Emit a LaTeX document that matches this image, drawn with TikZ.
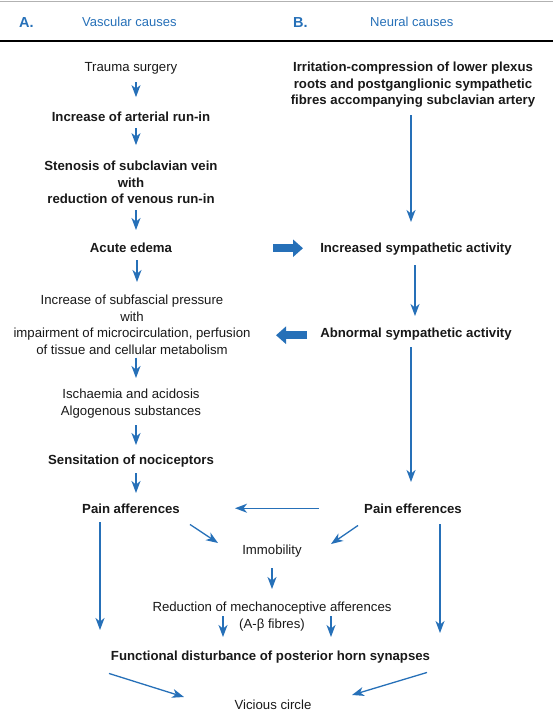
\documentclass[tikz,border=0pt]{standalone}
\usepackage{fontspec}
\setmainfont{Liberation Sans}
\usetikzlibrary{arrows.meta,calc}
\definecolor{fblue}{RGB}{38,112,184}
\definecolor{ftext}{RGB}{25,25,25}
\newcommand\ls{\rule[-3pt]{0pt}{12.5pt}}
\begin{document}
\begin{tikzpicture}[x=1pt,y=-1pt,
  lbl/.style={inner sep=0pt, text=ftext, font=\fontsize{13.2}{16.5}\selectfont, align=center, anchor=north},
  bl/.style={lbl, font=\fontsize{13.2}{16.5}\selectfont\bfseries},
  arr/.style={draw=fblue, line width=1.3pt, -{Stealth[length=12pt,width=9pt,inset=3.5pt]}},
  bigarr/.style={draw=fblue, line width=8pt, -{Triangle[length=10pt,width=17pt]}},
  hdr/.style={inner sep=0pt, text=fblue, font=\fontsize{13}{16}\selectfont, anchor=base west},
  hdrb/.style={hdr, font=\fontsize{14.5}{16}\selectfont\bfseries},
]
\useasboundingbox (0,0) rectangle (553,713);
% header
\draw[gray!60, line width=0.8pt] (0,1.5) -- (553,1.5);
\draw[black, line width=1.8pt] (0,41) -- (553,41);
\node[hdrb] (ha) at (19,27) {A.};
\node[hdr] (hv) at (82,26.6) {Vascular causes};
\node[hdrb] (hb) at (293,27) {B.};
\node[hdr] (hn) at (370,26.6) {Neural causes};

% left column
\node[lbl] (n1) at (131,62.1) {\ls Trauma surgery};
\node[bl] (n2) at (131,112.1) {\ls Increase of arterial run-in};
\node[bl] (n3) at (131,161.1) {\ls Stenosis of subclavian vein\\\ls with\\\ls reduction of venous run-in};
\node[bl] (n4) at (131,243.1) {\ls Acute edema};
\node[lbl] (n5) at (132,295.1) {\ls Increase of subfascial pressure\\\ls with\\\ls impairment of microcirculation, perfusion\\\ls of tissue and cellular metabolism};
\node[lbl] (n6) at (131,389.1) {\ls Ischaemia and acidosis\\\ls Algogenous substances};
\node[bl] (n7) at (131,455.1) {\ls Sensitation of nociceptors};
\node[bl] (n8) at (131,504.1) {\ls Pain afferences};

% right column
\node[bl] (r1) at (413,62.1) {\ls Irritation-compression of lower plexus\\\ls roots and postganglionic sympathetic\\\ls fibres accompanying subclavian artery};
\node[bl] (r2) at (416,243.1) {\ls Increased sympathetic activity};
\node[bl] (r3) at (416,328.1) {\ls Abnormal sympathetic activity};
\node[bl] (r4) at (413,504.1) {\ls Pain efferences};

% middle
\node[lbl] (imm) at (272,545.1) {\ls Immobility};
\node[lbl] (red) at (272,602.1) {\ls Reduction of mechanoceptive afferences\\\ls (A-β fibres)};
\node[bl] (fd) at (270.5,651.1) {\ls Functional disturbance of posterior horn synapses};
\node[lbl] (vc) at (273,700.1) {\ls Vicious circle};

% left column arrows
\draw[arr, shorten <=7.4pt, shorten >=15pt] ([xshift=5pt]n1.south) -- ([xshift=5pt]n2.north);
\draw[arr, shorten <=3.4pt, shorten >=16pt] ([xshift=5pt]n2.south) -- ([xshift=5pt]n3.north);
\draw[arr, shorten <=3.4pt, shorten >=13.1pt] ([xshift=5pt]n3.south) -- ([xshift=5pt]n4.north);
\draw[arr, shorten <=4.4pt, shorten >=13.1pt] ([xshift=6pt]n4.south) -- ([xshift=5pt]n5.north);
\draw[arr, shorten <=0pt, shorten >=11.1pt] ([xshift=4pt]n5.south) -- ([xshift=5pt]n6.north);
\draw[arr, shorten <=6.9pt, shorten >=10.1pt] ([xshift=5pt]n6.south) -- ([xshift=5pt]n7.north);
\draw[arr, shorten <=5.4pt, shorten >=11.1pt] ([xshift=5pt]n7.south) -- ([xshift=5pt]n8.north);

% right column arrows
\draw[arr, shorten <=7.4pt, shorten >=21.1pt] ([xshift=-2pt]r1.south) -- ([xshift=-5pt]r2.north);
\draw[arr, shorten <=9.4pt, shorten >=12.1pt] ([xshift=-1pt]r2.south) -- ([xshift=-1pt]r3.north);
\draw[arr, shorten <=6.4pt, shorten >=22.1pt] ([xshift=-5pt]r3.south) -- ([xshift=-2pt]r4.north);

% thick arrows
\draw[bigarr] ($(n4.center)+(142,-1.35)$) -- ($(r2.center)+(-113,-1.35)$);
\draw[bigarr] ($(r3.center)+(-109,0.65)$) -- ($(n5.center)+(144,8.9)$);

% lower arrows
\draw[arr] ($(r4.center)+(-94,-2.35)$) -- ($(n8.center)+(104,-2.35)$);
\draw[arr] ($(n8.south)+(59,7.4)$) -- ($(imm.north)+(-54,-2.1)$);
\draw[arr] ($(r4.south)+(-55,8.4)$) -- ($(imm.north)+(59,-1.1)$);
\draw[arr, shorten <=10.4pt, shorten >=13.1pt] (imm.south) -- (red.north);
\draw[arr] ($(red.south)+(-49,-15.1)$) -- ($(fd.north)+(-47.5,-14.1)$);
\draw[arr] ($(red.south)+(59,-15.1)$) -- ($(fd.north)+(60.5,-14.1)$);
\draw[arr] ($(n8.south)+(-31,5.4)$) -- ($(fd.north)+(-170.5,-21.1)$);
\draw[arr] ($(r4.south)+(27,7.4)$) -- ($(fd.north)+(169.5,-18.1)$);
\draw[arr] ($(fd.south)+(-161.5,9.4)$) -- ($(vc.north)+(-89,-3.1)$);
\draw[arr] ($(fd.south)+(156.5,8.4)$) -- ($(vc.north)+(79,-5.1)$);
\end{tikzpicture}
\end{document}
